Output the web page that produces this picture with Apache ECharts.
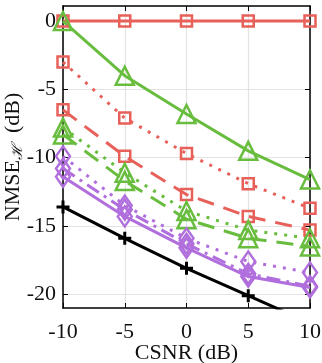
<!DOCTYPE html>
<html><head><meta charset="utf-8">
<script src="https://cdn.jsdelivr.net/npm/echarts@6/dist/echarts.min.js"></script>
<style>html,body{margin:0;padding:0;background:#fff}#c{width:322px;height:363px}</style>
</head><body><div id="c"></div>
<script>
const xValues = [-10, -5, 0, 5, 10];
const xTicks = [-10, -5, 0, 5, 10];
const yTicks = [-20, -15, -10, -5, 0];
const redSolid = [0, 0, 0, 0, 0];
const greenSolid = [0, -4.0, -6.8, -9.5, -11.6];
const redDotted = [-3.0, -7.1, -9.7, -11.9, -13.7];
const redDashed = [-6.5, -9.9, -12.7, -14.3, -15.3];
const greenDotted = [-7.8, -11.1, -13.9, -15.3, -15.9];
const greenDashed = [-8.3, -11.7, -14.5, -15.9, -16.5];
const purpleDotted = [-9.9, -13.5, -15.9, -17.6, -18.4];
const purpleDashDot = [-10.8, -13.8, -16.3, -18.5, -19.4];
const purpleSolid = [-11.4, -14.3, -16.6, -18.7, -19.5];
const blackSolid = [-13.6, -15.9, -18.1, -20.1, -22.1];

const RED = '#e8605a', GREEN = '#68bd3e', PURPLE = '#b06fdc', BLACK = '#000';
const FONT = '"Liberation Serif", "DejaVu Serif", serif';
const PLUS = 'path://M0,-10 L0,10 M-10,0 L10,0';

function mk(name, data, color, dash, symbol, size) {
  return {
    name, type: 'line', data: xValues.map((x, i) => [x, data[i]]),
    clip: true, symbol, symbolSize: size, showSymbol: true,
    lineStyle: { color, width: 3, type: dash },
    itemStyle: { color: symbol === PLUS ? color : 'rgba(0,0,0,0)', borderColor: color, borderWidth: symbol === PLUS ? 3 : 2.5 },
    emphasis: { disabled: true }, animation: false, z: 3
  };
}
const DOT = [3, 7], DASH = [17, 10], DASHDOT = [14, 6, 3, 6];

const chart = echarts.init(document.getElementById('c'));
chart.setOption({
  animation: false,
  grid: { left: 63, right: 12, top: 6, bottom: 55, containLabel: false, outerBoundsMode: 'none' },
  xAxis: [{
    type: 'value', min: -10, max: 10, interval: 5, position: 'bottom',
    name: 'CSNR (dB)', nameLocation: 'middle', nameGap: 34, nameMoveOverlap: false,
    nameTextStyle: { fontFamily: FONT, fontSize: 22, color: '#111' },
    axisLine: { show: true, onZero: false, lineStyle: { color: '#000', width: 1.5 } },
    axisTick: { show: true, inside: true, length: 5, lineStyle: { color: '#000' } },
    axisLabel: { fontFamily: FONT, fontSize: 22, color: '#111', margin: 13 },
    splitLine: { show: true, lineStyle: { color: '#e3e3e3', width: 1.2 } }
  }, {
    type: 'value', min: -10, max: 10, interval: 5, position: 'top',
    axisLine: { show: true, onZero: false, lineStyle: { color: '#000', width: 1.5 } },
    axisTick: { show: true, inside: true, length: 5, lineStyle: { color: '#000' } },
    axisLabel: { show: false }, splitLine: { show: false }
  }],
  yAxis: [{
    type: 'value', min: -21, max: 1.1, position: 'left',
    name: '{a|NMSE}{s|ℋ}{a|  (dB)}', nameLocation: 'middle', nameGap: 37, nameRotate: 90, nameMoveOverlap: false,
    nameTextStyle: { rich: {
      a: { fontFamily: FONT, fontSize: 22, color: '#111' },
      s: { fontFamily: FONT, fontSize: 15, color: '#111', fontStyle: 'italic', padding: [10, 0, 0, 0] }
    } },
    axisLine: { show: true, onZero: false, lineStyle: { color: '#000', width: 1.5 } },
    axisTick: { show: true, inside: true, length: 5, customValues: yTicks, lineStyle: { color: '#000' } },
    axisLabel: { fontFamily: FONT, fontSize: 22, color: '#111', margin: 7, customValues: yTicks },
    splitLine: { show: true, lineStyle: { color: '#e3e3e3', width: 1.2 } }
  }, {
    type: 'value', min: -21, max: 1.1, position: 'right',
    axisLine: { show: true, onZero: false, lineStyle: { color: '#000', width: 1.5 } },
    axisTick: { show: true, inside: true, length: 5, customValues: yTicks, lineStyle: { color: '#000' } },
    axisLabel: { show: false }, splitLine: { show: false }
  }],
  series: [
    mk('redSolid', redSolid, RED, 'solid', 'rect', 11),
    mk('greenSolid', greenSolid, GREEN, 'solid', 'triangle', 18),
    mk('redDotted', redDotted, RED, DOT, 'rect', 11),
    mk('redDashed', redDashed, RED, DASH, 'rect', 11),
    mk('greenDotted', greenDotted, GREEN, DOT, 'triangle', 18),
    mk('greenDashed', greenDashed, GREEN, DASH, 'triangle', 18),
    mk('purpleDotted', purpleDotted, PURPLE, DOT, 'diamond', [14, 20]),
    mk('purpleDashDot', purpleDashDot, PURPLE, DASHDOT, 'diamond', [14, 20]),
    mk('purpleSolid', purpleSolid, PURPLE, 'solid', 'diamond', [14, 20]),
    mk('blackSolid', blackSolid, BLACK, 'solid', PLUS, 13)
  ]
});
</script></body></html>
